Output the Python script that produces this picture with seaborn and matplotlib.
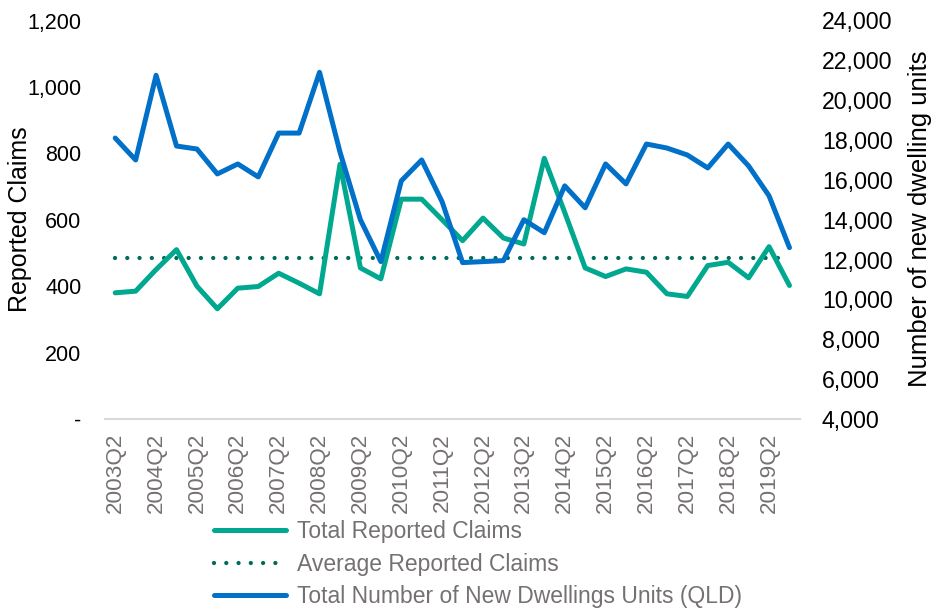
import numpy as np
import pandas as pd
import matplotlib
matplotlib.use("Agg")
import matplotlib.pyplot as plt
import seaborn as sns
from matplotlib.ticker import FuncFormatter, FixedLocator
from matplotlib.lines import Line2D

periods = ["2003Q2", "2003Q4", "2004Q2", "2004Q4", "2005Q2", "2005Q4", "2006Q2", "2006Q4",
           "2007Q2", "2007Q4", "2008Q2", "2008Q4", "2009Q2", "2009Q4", "2010Q2", "2010Q4",
           "2011Q2", "2011Q4", "2012Q2", "2012Q4", "2013Q2", "2013Q4", "2014Q2", "2014Q4",
           "2015Q2", "2015Q4", "2016Q2", "2016Q4", "2017Q2", "2017Q4", "2018Q2", "2018Q4",
           "2019Q2", "2019Q4"]
claims = [380, 385, 450, 510, 400, 332, 394, 399, 439, 409, 377, 767, 455, 422, 662, 662,
          600, 537, 605, 545, 527, 785, 622, 455, 429, 452, 442, 377, 369, 462, 472, 425,
          519, 402]
dwellings = [18100, 17000, 21250, 17700, 17550, 16300, 16800, 16150, 18350, 18350, 21400,
             17400, 14000, 11900, 15950, 17000, 14900, 11850, 11900, 11950, 14000, 13350,
             15700, 14600, 16800, 15800, 17800, 17600, 17250, 16600, 17800, 16700, 15200,
             12600]
left_ticks = [0, 200, 400, 600, 800, 1000, 1200]
right_ticks = [4000, 6000, 8000, 10000, 12000, 14000, 16000, 18000, 20000, 22000, 24000]
labels = ["Total Reported Claims", "Average Reported Claims",
          "Total Number of New Dwellings Units (QLD)"]

avg = float(np.mean(claims))
df = pd.DataFrame({"period": periods, "claims": claims, "dwellings": dwellings,
                   "average": [avg] * len(periods)})
df["pos"] = np.arange(len(periods))

sns.set_style("white")
plt.rcParams["font.family"] = ["Liberation Sans", "DejaVu Sans"]

GREEN = "#00A88F"
BLUE = "#0070C8"
DKGREEN = "#006B57"
GRAY = "#767171"

fig = plt.figure(figsize=(9.36, 6.14), dpi=100)
W, H = 936, 614
ax_l, ax_r, ax_b, ax_t = 105, 799.7, 419, 20.5
ax = fig.add_axes([ax_l / W, 1 - ax_b / H, (ax_r - ax_l) / W, (ax_b - ax_t) / H])
ax2 = ax.twinx()

LW = 3.6
DOT_LW = 3.1
sns.lineplot(data=df, x="pos", y="claims", ax=ax, color=GREEN, linewidth=LW,
             legend=False, zorder=3)
sns.lineplot(data=df, x="pos", y="average", ax=ax, color=DKGREEN, linewidth=DOT_LW,
             legend=False, zorder=2)
avg_line = ax.lines[-1]
avg_line.set_dashes((0.001, 2.85))
avg_line.set_dash_capstyle("round")
ax.lines[0].set_solid_capstyle("round")

sns.lineplot(data=df, x="pos", y="dwellings", ax=ax2, color=BLUE, linewidth=LW,
             legend=False, zorder=4)
ax2.lines[0].set_solid_capstyle("round")

ax.set_xlim(-0.5, len(periods) - 0.5)
ax.set_ylim(0, 1200)
ax2.set_ylim(4000, 24000)

ax.xaxis.set_major_locator(FixedLocator(df["pos"].values[::2]))
ax.set_xticklabels(periods[::2], rotation=90, color=GRAY, fontsize=16.2)
ax.set_yticks(left_ticks)
ax.yaxis.set_major_formatter(FuncFormatter(lambda v, p: "-" if v == 0 else f"{int(v):,}"))
ax2.set_yticks(right_ticks)
ax2.yaxis.set_major_formatter(FuncFormatter(lambda v, p: f"{int(v):,}"))

ax.tick_params(axis="x", length=0, pad=10)
ax.tick_params(axis="y", length=0, pad=17, labelsize=15.5, labelcolor="#000000")
ax2.tick_params(axis="y", length=0, pad=16, labelsize=16.7, labelcolor="#000000")

for a in (ax, ax2):
    for s in ["top", "left", "right", "bottom"]:
        a.spines[s].set_visible(False)
    a.grid(False)
    a.set_xlabel("")
    a.set_ylabel("")
ax.spines["bottom"].set_visible(True)
ax.spines["bottom"].set_color("#D9D9D9")
ax.spines["bottom"].set_linewidth(1.5)
ax.patch.set_alpha(0)

fig.text(20 / W, 1 - 219.5 / H, "Reported Claims", rotation=90, ha="center", va="center",
         fontsize=18, color="#000000")
fig.text(920 / W, 1 - 218.5 / H, "Number of new dwelling units", rotation=90, ha="center",
         va="center", fontsize=18.5, color="#000000")

h1 = Line2D([], [], color=GREEN, linewidth=LW)
h2 = Line2D([], [], color=DKGREEN, linewidth=DOT_LW, dashes=(0.001, 2.85),
            dash_capstyle="round")
h3 = Line2D([], [], color=BLUE, linewidth=LW)
leg = fig.legend([h1, h2, h3], labels, loc="upper left",
                 bbox_to_anchor=(214 / W, 1 - 520 / H), frameon=False, fontsize=16.5,
                 handlelength=3.15, handletextpad=0.47, labelspacing=0.42, borderpad=0,
                 borderaxespad=0)
for t in leg.get_texts():
    t.set_color(GRAY)

fig.savefig("out.png", dpi=100)
